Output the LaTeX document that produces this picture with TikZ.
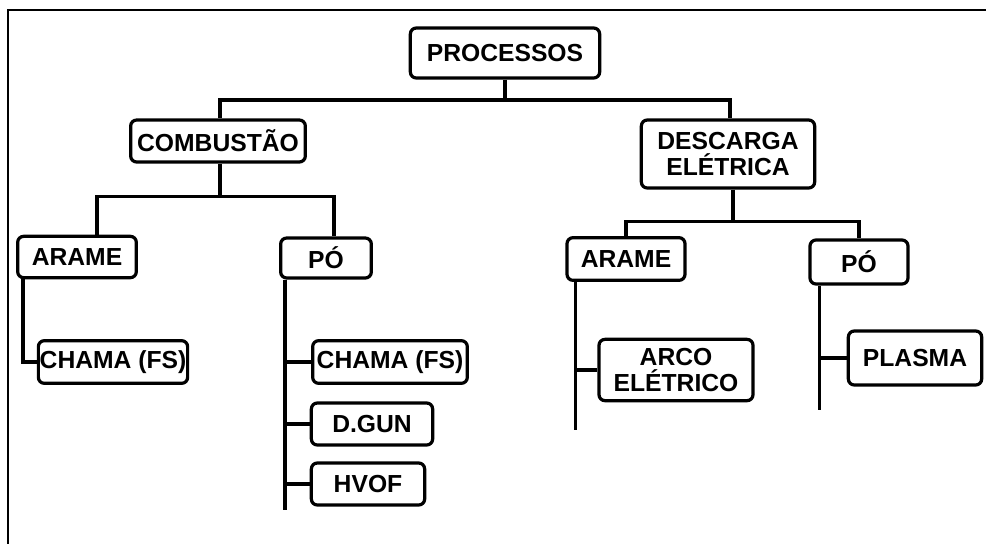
\documentclass[tikz,border=0pt]{standalone}
\usepackage{fontspec}
\setmainfont{Liberation Sans}
\usetikzlibrary{calc,positioning}

\begin{document}
\begin{tikzpicture}[
      x=0.75pt, y=-0.75pt,
      box/.style={draw=black, line width=2.4pt, rounded corners=4.5pt, fill=white,
        align=center, inner sep=1pt, font=\bfseries\fontsize{18.5}{19.5}\selectfont},
      link/.style={line width=2.4pt, draw=black},
      frame/.style={line width=1.8pt, draw=black}
    ]
    \useasboundingbox (0,0) rectangle (986,544);
    \draw[frame] (986,10) -- (8,10) -- (8,544);

    \node[box, minimum width=142pt, minimum height=37.5pt] (processos) at (505,53) {PROCESSOS};
    \node[box, minimum width=131pt, minimum height=31.5pt] (combustao) at (218,141) {COMBUSTÃO};
    \node[box, minimum width=130pt, minimum height=51pt] (descarga) at (728,154) {DESCARGA\\ELÉTRICA};

    \node[box, minimum width=89pt, minimum height=31pt] (arameComb) at (77,257) {ARAME};
    \node[box, minimum width=68pt, minimum height=30pt] (poComb) at (326,258) {PÓ};
    \node[box, minimum width=88.5pt, minimum height=32pt] (arameDesc) at (626,259) {ARAME};
    \node[box, minimum width=73.5pt, minimum height=33pt] (poDesc) at (859,262) {PÓ};

    \node[box, minimum width=109.5pt, minimum height=32pt] (chamaArame) at (113,362) {CHAMA (FS)};
    \node[box, minimum width=116pt, minimum height=32pt] (chamaPo) at (390,362) {CHAMA (FS)};
    \node[box, minimum width=91pt, minimum height=31.5pt] (dgun) at (372,424) {D.GUN};
    \node[box, minimum width=85pt, minimum height=31.5pt] (hvof) at (368,484) {HVOF};
    \node[box, minimum width=115.5pt, minimum height=46pt] (arco) at (676,370) {ARCO\\ELÉTRICO};
    \node[box, minimum width=100pt, minimum height=40.5pt] (plasma) at (915,358) {PLASMA};

    % first level
    \coordinate (busTop) at (505,100);
    \draw[link] (processos.south) -- (busTop);
    \draw[link] (busTop) -| ($(combustao.north)+(2,0)$);
    \draw[link] (busTop) -| ($(descarga.north)+(2,0)$);

    % combustao
    \draw[link] ($(combustao.south)+(2,0)$) -- ++(0,33) coordinate (busComb);
    \draw[link] (busComb) -| ($(arameComb.north)+(20,0)$);
    \draw[link] (busComb) -| ($(poComb.north)+(8,0)$);

    % descarga eletrica
    \draw[link] ($(descarga.south)+(5,0)$) -- ++(0,32) coordinate (busDesc);
    \draw[link] (busDesc) -| (arameDesc.north);
    \draw[link] (busDesc) -| (poDesc.north);

    % processes
    \draw[link] ($(arameComb.south west)+(7,0)$) |- (chamaArame.west);

    \coordinate (trunkPo) at ($(poComb.south west)+(6,0)$);
    \draw[link] (trunkPo) -- (trunkPo |- 0,510);
    \foreach \n in {chamaPo,dgun,hvof}
      \draw[link] (trunkPo |- \n.west) -- (\n.west);

    \coordinate (trunkArco) at ($(arameDesc.south west)+(10,0)$);
    \draw[link] (trunkArco) -- (trunkArco |- 0,430);
    \draw[link] (trunkArco |- arco.west) -- (arco.west);

    \coordinate (trunkPlasma) at ($(poDesc.south west)+(11,0)$);
    \draw[link] (trunkPlasma) -- (trunkPlasma |- 0,410);
    \draw[link] (trunkPlasma |- plasma.west) -- (plasma.west);
  \end{tikzpicture}
\end{document}
